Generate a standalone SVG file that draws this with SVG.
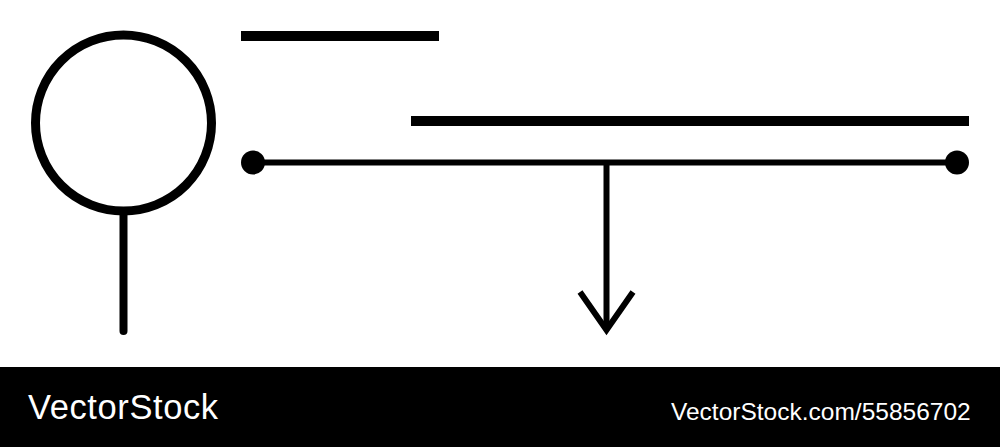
<svg xmlns="http://www.w3.org/2000/svg" width="1000" height="447" viewBox="0 0 1000 447">
<style>
.s{stroke:#000;fill:none}
.t{fill:#fff;font-family:"Liberation Sans",Arial,sans-serif}
</style>
<rect width="1000" height="447" fill="#fff"/>
<g id="pin">
<circle class="s" cx="123.5" cy="123" r="88" stroke-width="9"/>
<line class="s" x1="123.5" y1="212" x2="123.5" y2="331" stroke-width="8" stroke-linecap="round"/>
</g>
<g id="bar1"><line class="s" x1="241" y1="36" x2="439" y2="36" stroke-width="10"/></g>
<g id="bar2"><line class="s" x1="411" y1="121" x2="969" y2="121" stroke-width="10"/></g>
<g id="connectors">
<line class="s" x1="253" y1="162.5" x2="957" y2="162.5" stroke-width="6"/>
<circle cx="253" cy="162.5" r="12" fill="#000"/>
<circle cx="957" cy="162.5" r="12" fill="#000"/>
<line class="s" x1="606.5" y1="162" x2="606.5" y2="330" stroke-width="6"/>
<polyline class="s" points="580,292 606.5,330 633,292" stroke-width="6"/>
</g>
<g id="footer">
<rect x="0" y="367" width="1000" height="80" fill="#000"/>
<text class="t" x="28" y="418.5" font-size="34.5" letter-spacing="0.6">VectorStock</text>
<text class="t" x="671" y="420" font-size="24.5">VectorStock.com/55856702</text>
</g>
</svg>
